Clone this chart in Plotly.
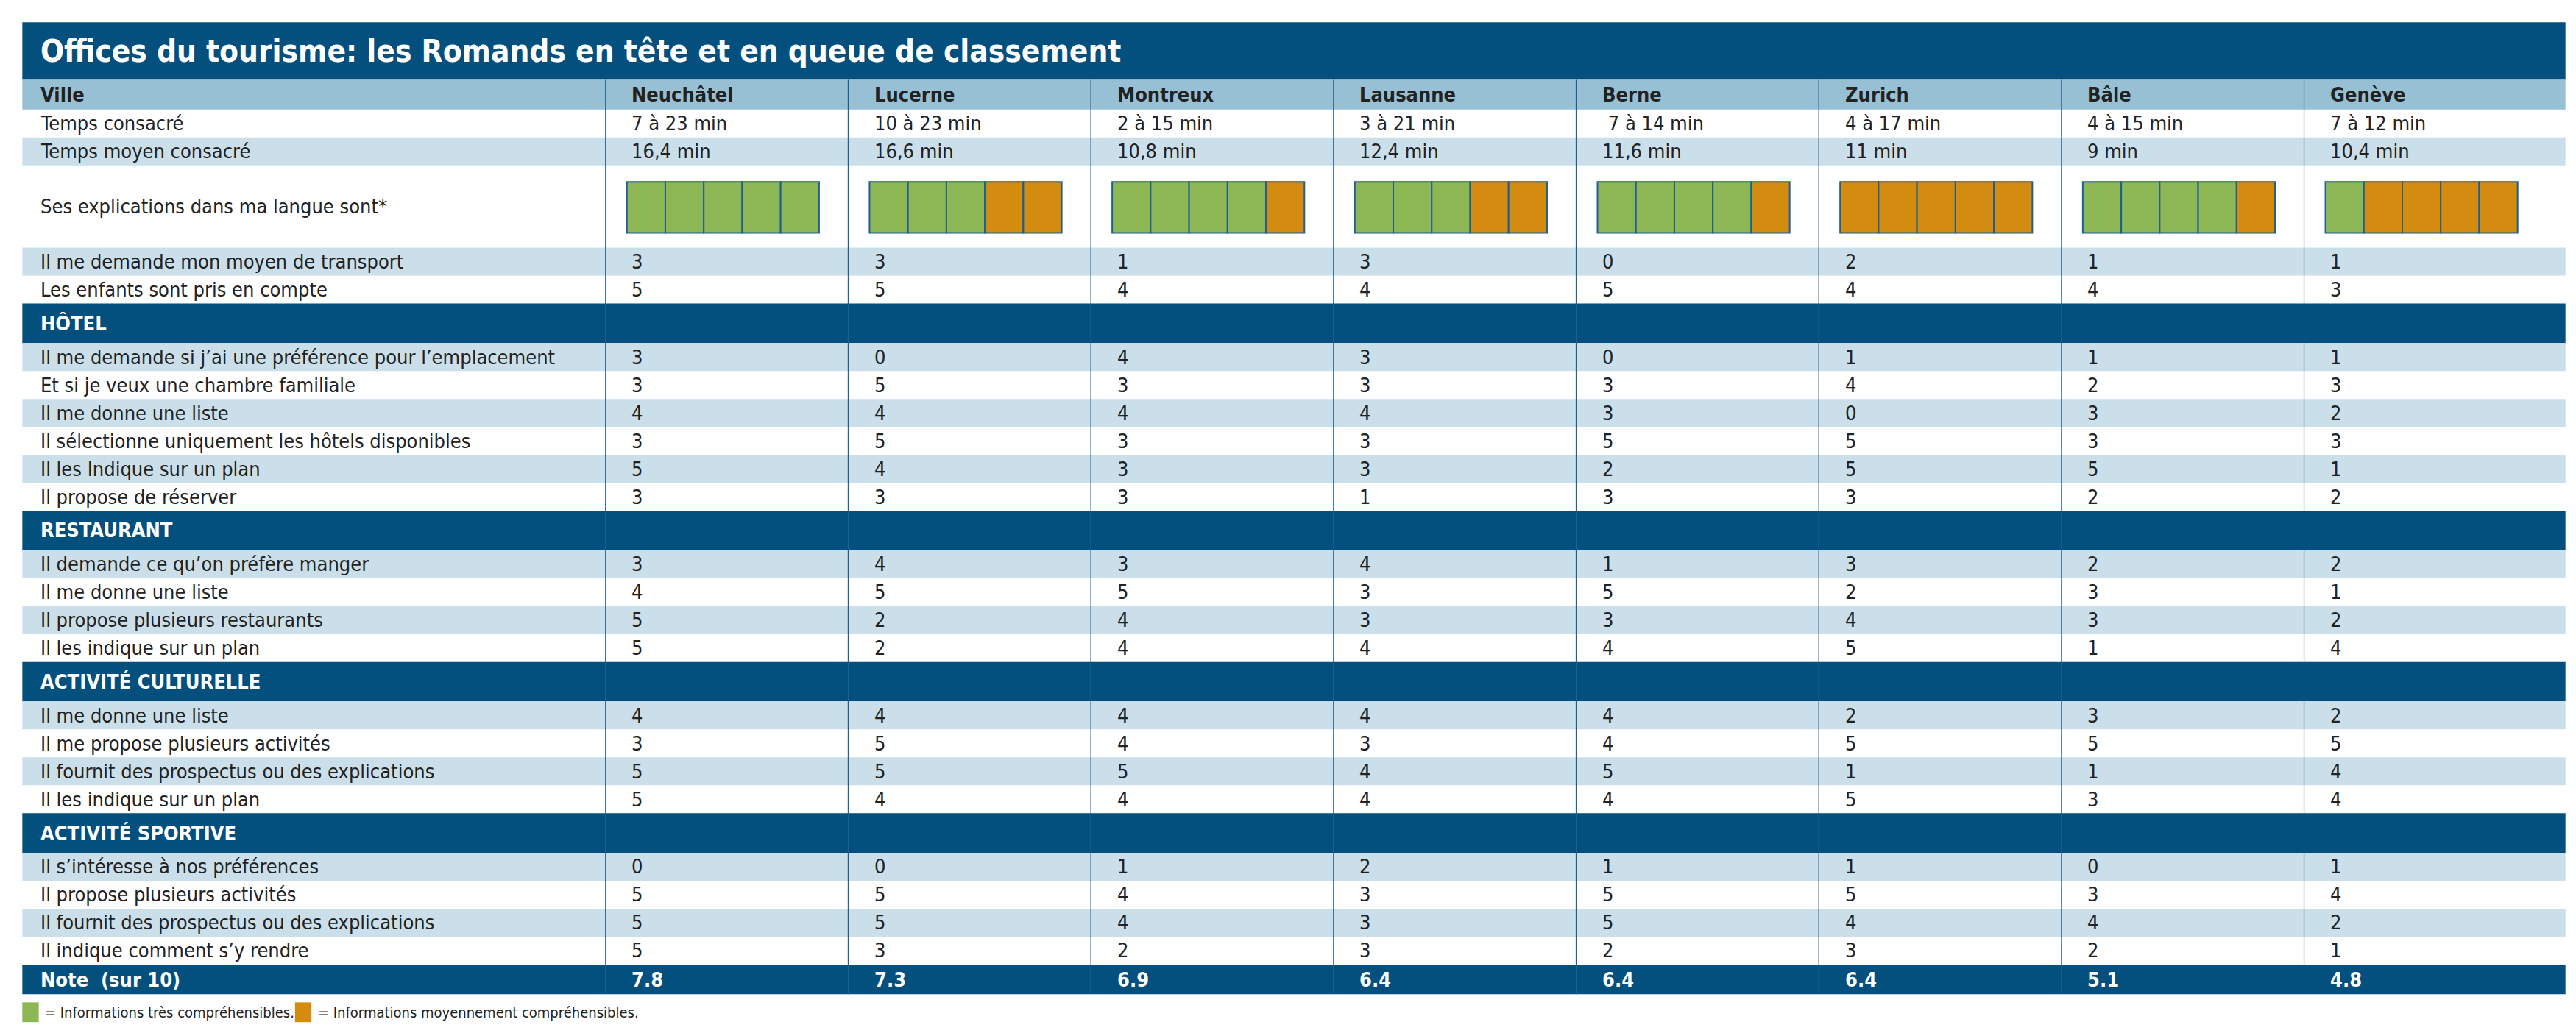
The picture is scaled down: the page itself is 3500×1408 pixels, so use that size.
import plotly.graph_objects as go

title = "Offices du tourisme: les Romands en tête et en queue de classement"
villes = ["Neuchâtel", "Lucerne", "Montreux", "Lausanne", "Berne", "Zurich", "Bâle", "Genève"]
temps = ["7 à 23 min", "10 à 23 min", "2 à 15 min", "3 à 21 min", " 7 à 14 min", "4 à 17 min", "4 à 15 min", "7 à 12 min"]
temps_moyen = ["16,4 min", "16,6 min", "10,8 min", "12,4 min", "11,6 min", "11 min", "9 min", "10,4 min"]
nb_vert = [5, 3, 4, 3, 4, 0, 4, 1]  # cases vertes sur 5
transport = [3, 3, 1, 3, 0, 2, 1, 1]
enfants = [5, 5, 4, 4, 5, 4, 4, 3]

sections = [
    ("HÔTEL", [
        ("Il me demande si j’ai une préférence pour l’emplacement", [3, 0, 4, 3, 0, 1, 1, 1]),
        ("Et si je veux une chambre familiale", [3, 5, 3, 3, 3, 4, 2, 3]),
        ("Il me donne une liste", [4, 4, 4, 4, 3, 0, 3, 2]),
        ("Il sélectionne uniquement les hôtels disponibles", [3, 5, 3, 3, 5, 5, 3, 3]),
        ("Il les Indique sur un plan", [5, 4, 3, 3, 2, 5, 5, 1]),
        ("Il propose de réserver", [3, 3, 3, 1, 3, 3, 2, 2]),
    ]),
    ("RESTAURANT", [
        ("Il demande ce qu’on préfère manger", [3, 4, 3, 4, 1, 3, 2, 2]),
        ("Il me donne une liste", [4, 5, 5, 3, 5, 2, 3, 1]),
        ("Il propose plusieurs restaurants", [5, 2, 4, 3, 3, 4, 3, 2]),
        ("Il les indique sur un plan", [5, 2, 4, 4, 4, 5, 1, 4]),
    ]),
    ("ACTIVITÉ CULTURELLE", [
        ("Il me donne une liste", [4, 4, 4, 4, 4, 2, 3, 2]),
        ("Il me propose plusieurs activités", [3, 5, 4, 3, 4, 5, 5, 5]),
        ("Il fournit des prospectus ou des explications", [5, 5, 5, 4, 5, 1, 1, 4]),
        ("Il les indique sur un plan", [5, 4, 4, 4, 4, 5, 3, 4]),
    ]),
    ("ACTIVITÉ SPORTIVE", [
        ("Il s’intéresse à nos préférences", [0, 0, 1, 2, 1, 1, 0, 1]),
        ("Il propose plusieurs activités", [5, 5, 4, 3, 5, 5, 3, 4]),
        ("Il fournit des prospectus ou des explications", [5, 5, 4, 3, 5, 4, 4, 2]),
        ("Il indique comment s’y rendre", [5, 3, 2, 3, 2, 3, 2, 1]),
    ]),
]
notes = ["7.8", "7.3", "6.9", "6.4", "6.4", "6.4", "5.1", "4.8"]

DARK = "#034f7d"
HEAD = "#97c0d4"
STRIPE = "#cadfe9"
GREEN = "#8db654"
ORANGE = "#d38b10"
SEP = "#1f5f92"
FONT = "DejaVu Sans Condensed, Liberation Sans Narrow, sans-serif"

# geometry in a 1568 x 630 unit frame
L, R = 10, 1558
COL0, COLW = 365, 147.7
RH = 17

shapes, ann = [], []


def rect(x0, x1, y0, y1, color, line=None):
    shapes.append(dict(type="rect", x0=x0, x1=x1, y0=y0, y1=y1, fillcolor=color,
                       line=dict(width=2 if line else 0, color=line or color), layer="below"))


def text(x, y, s, size=27, color="#222", bold=False):
    ann.append(dict(x=x, y=y, text=f"<b>{s}</b>" if bold else s, showarrow=False,
                    xanchor="left", yanchor="middle", font=dict(family=FONT, size=size, color=color)))


def row(y, h, label, vals, striped, bold=False):
    if striped:
        rect(L, R, y, y + h, STRIPE)
    text(20, y + h / 2, label, bold=bold)
    for i, v in enumerate(vals):
        text(COL0 + i * COLW + 15, y + h / 2, str(v), bold=bold)
    return y + h


# title
rect(L, R, 10, 45, DARK)
text(20, 27.5, title, size=42, color="white", bold=True)
# header
rect(L, R, 45, 63, HEAD)
y = row(45, 18, "Ville", villes, False, bold=True)
y = row(y, RH, "Temps consacré", temps, False)
y = row(y, RH, "Temps moyen consacré", temps_moyen, True)
# explications
text(20, y + 25, "Ses explications dans ma langue sont*")
for i, g in enumerate(nb_vert):
    x0 = COL0 + i * COLW + 13
    cw = 117 / 5
    for k in range(5):
        rect(x0 + k * cw, x0 + (k + 1) * cw, y + 10, y + 41, GREEN if k < g else ORANGE, line=SEP)
y += 50
y = row(y, RH, "Il me demande mon moyen de transport", transport, True)
y = row(y, RH, "Les enfants sont pris en compte", enfants, False)
for name, rows in sections:
    rect(L, R, y, y + 24, DARK)
    text(20, y + 12, name, size=27, color="white", bold=True)
    y += 24
    for j, (lab, vals) in enumerate(rows):
        y = row(y, RH, lab, vals, j % 2 == 0)
rect(L, R, y, y + 18, DARK)
text(20, y + 9, "Note  (sur 10)", color="white", bold=True)
for i, v in enumerate(notes):
    text(COL0 + i * COLW + 15, y + 9, v, color="white", bold=True)
bottom = y + 18

for i in range(8):
    x = COL0 + i * COLW
    shapes.append(dict(type="line", x0=x, x1=x, y0=45, y1=bottom, line=dict(color=SEP, width=1.2)))

# legend
rect(10, 20, 606, 618, GREEN)
text(23, 612, "= Informations très compréhensibles.", size=20)
rect(176, 186, 606, 618, ORANGE)
text(189, 612, "= Informations moyennement compréhensibles.", size=20)

fig = go.Figure()
fig.update_layout(
    width=3500, height=1408, margin=dict(l=0, r=0, t=0, b=0),
    plot_bgcolor="white", paper_bgcolor="white",
    xaxis=dict(range=[0, 1568], visible=False, fixedrange=True),
    yaxis=dict(range=[630, 0], visible=False, fixedrange=True),
    shapes=shapes, annotations=ann, showlegend=False,
)
fig.write_html("out.html")
